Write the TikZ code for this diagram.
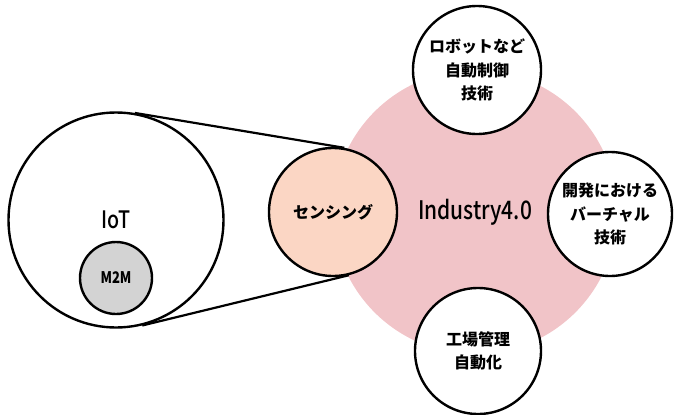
\documentclass[tikz,border=0pt]{standalone}
\usepackage{fontspec}
\setmainfont{Noto Sans CJK JP}
\newfontfamily\narrow[FakeStretch=0.82]{Noto Sans CJK JP Medium}
\newfontfamily\narrowb[FakeStretch=0.82]{Noto Sans CJK JP Black}
\newfontfamily\jpfont{Noto Sans CJK JP Black}
\definecolor{pinkbg}{HTML}{F1C4C8}
\definecolor{sensfill}{HTML}{FBD6C4}
\definecolor{m2mfill}{HTML}{D3D3D3}
\begin{document}
\begin{tikzpicture}[x=1pt,y=-1pt,
  circ/.style={circle, draw=black, line width=2.4pt, inner sep=0pt, fill=white},
  jp/.style={font=\jpfont\fontsize{16}{23.5}\selectfont, align=center},
  conn/.style={draw=black, line width=2.2pt}]
\useasboundingbox (0,0) rectangle (675,415);
\node[circle, fill=pinkbg, minimum size=284pt, inner sep=0pt,
      font=\narrow\fontsize{25.5}{28}\selectfont] (ind) at (475,212) {Industry4.0};
\node[circ, minimum size=215pt, font=\narrow\fontsize{24}{26}\selectfont] (iot) at (116,220) {IoT};
\node[circ, fill=m2mfill, minimum size=72pt, font=\narrowb\fontsize{16}{18}\selectfont] (m2m) at (116,278) {M2M};
\node[circ, fill=sensfill, minimum size=128pt, jp] (sens) at (333,212) {センシング};
\draw[conn] (iot.80.15) -- (sens.80.15);
\draw[conn] (iot.-76.45) -- (sens.-76.45);
\node[circ, minimum size=128pt, jp] (robot) at (477,70) {ロボットなど\\自動制御\\技術};
\node[circ, minimum size=124pt, jp] (virt) at (610,214) {開発における\\バーチャル\\技術};
\node[circ, minimum size=126pt, jp] (fact) at (478,351) {工場管理\\自動化};
\end{tikzpicture}
\end{document}
